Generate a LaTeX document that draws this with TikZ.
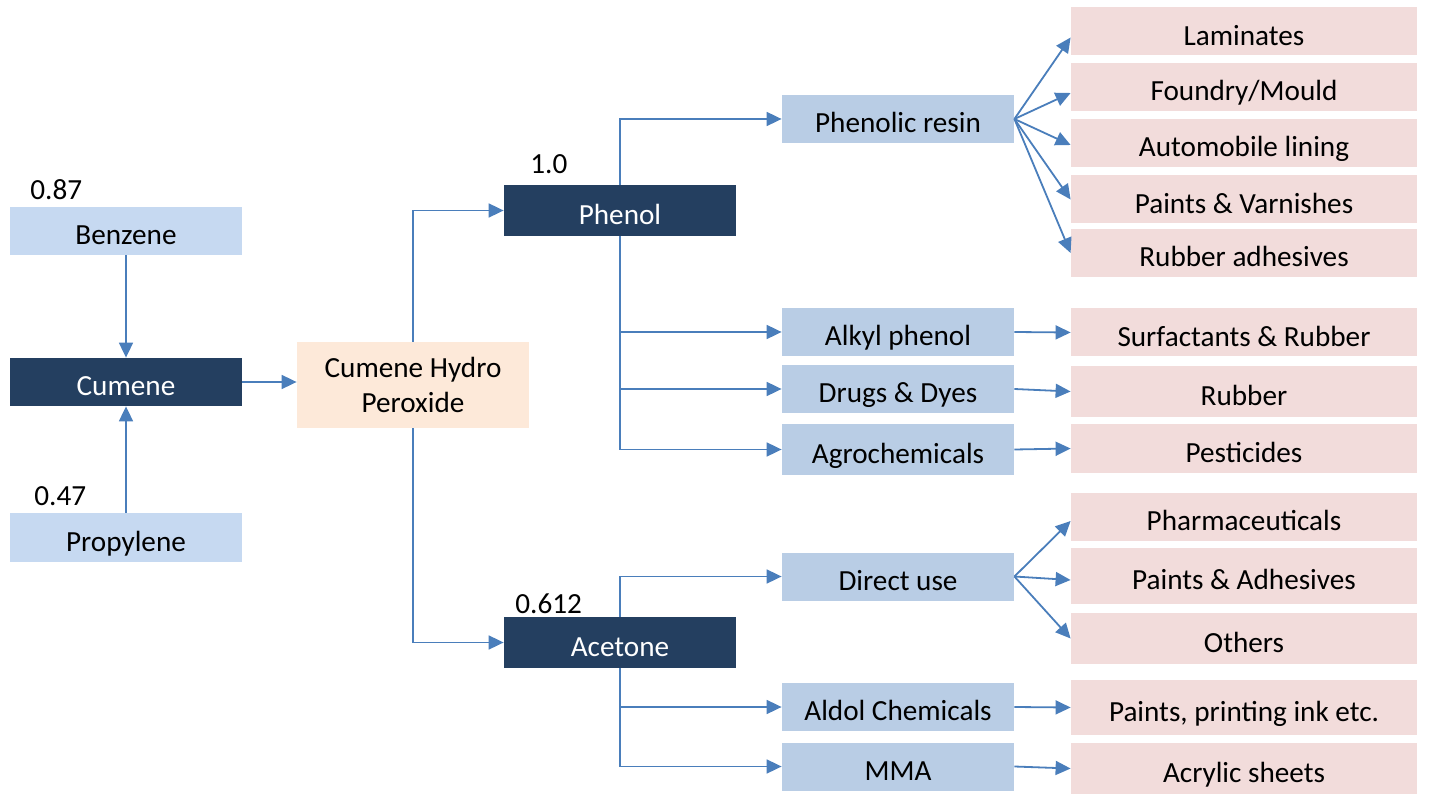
\documentclass[tikz,border=0pt]{standalone}
\usepackage{fontspec}
\setmainfont{Carlito}
\usetikzlibrary{arrows.meta,positioning}
\definecolor{navybox}{RGB}{36,63,96}
\definecolor{feedbox}{RGB}{198,217,241}
\definecolor{usebox}{RGB}{185,205,229}
\definecolor{endbox}{RGB}{242,220,219}
\definecolor{midbox}{RGB}{253,233,217}
\definecolor{flow}{RGB}{74,126,187}
\tikzset{
	box/.style={draw=none, inner sep=0pt, minimum height=24pt,
			text height=13.8pt, text depth=0pt,
			font=\fontsize{14.6pt}{17.5pt}\selectfont},
	feed/.style={box, fill=feedbox, minimum width=116pt},
	main/.style={box, fill=navybox, text=white, minimum width=116pt},
	use/.style={box, fill=usebox, minimum width=116pt},
	final/.style={box, fill=endbox, minimum width=173pt},
	num/.style={anchor=base west, inner sep=0pt, font=\fontsize{14.6pt}{17.5pt}\selectfont},
	arr/.style={-{Triangle[length=7.5pt,width=7pt]}, flow, line width=0.9pt}
}

\begin{document}
\begin{tikzpicture}[x=0.5pt,y=-0.5pt]
	\useasboundingbox (0,0) rectangle (1429,796);

	% raw materials
	\node [feed] (benzene)   at (126,231)   {Benzene};
	\node [main] (cumene)    at (126,382)   {Cumene};
	\node [feed, minimum height=24.5pt] (propylene) at (126,537.5) {Propylene};
	\node [num] (nbenz) at (30,200) {0.87};
	\node [num] (nprop) at (34,505) {0.47};

	\node [box, fill=midbox, minimum width=116pt, minimum height=43pt,
		text height=, text depth=, align=center] (chp) at (413,385) {Cumene Hydro\\Peroxide};

	% products
	\node [main, minimum height=25.5pt] (phenol)  at (620,210.5) {Phenol};
	\node [main, minimum height=25.5pt] (acetone) at (620,642.5) {Acetone};
	\node [num] (nphen) at (530,174) {1.0};
	\node [num] (nacet) at (515,613) {0.612};

	% intermediates / uses
	\node [use] (phenolic) at (898,119)   {Phenolic resin};
	\node [use] (alkyl)    at (898,332)   {Alkyl phenol};
	\node [use] (drugs)    at (898,389)   {Drugs \& Dyes};
	\node [use, minimum height=25.5pt] (agro) at (898,449.5) {Agrochemicals};
	\node [use] (direct)   at (898,576.5) {Direct use};
	\node [use] (aldol)    at (898,707)   {Aldol Chemicals};
	\node [use] (mma)      at (898,766.5) {MMA};

	% end uses
	\node [final] (lam)    at (1244,31.5)  {Laminates};
	\node [final] (found)  at (1244,87)    {Foundry/Mould};
	\node [final] (auto)   at (1244,143)   {Automobile lining};
	\node [final] (paintv) at (1244,199.5) {Paints \& Varnishes};
	\node [final] (rubadh) at (1244,253)   {Rubber adhesives};
	\node [final] (surf)   at (1244,332.5) {Surfactants \& Rubber};
	\node [final, minimum height=25.5pt] (rubber) at (1244,391.5) {Rubber};
	\node [final, minimum height=24.5pt] (pest)   at (1244,448.5) {Pesticides};
	\node [final] (pharm)  at (1244,517)   {Pharmaceuticals};
	\node [final, minimum height=28pt] (paintad) at (1244,576) {Paints \& Adhesives};
	\node [final, minimum height=25.5pt] (others) at (1244,638.5) {Others};
	\node [final, minimum height=27.5pt] (ink)    at (1244,707.5) {Paints, printing ink etc.};
	\node [final, minimum height=25.5pt] (acryl)  at (1244,768.5) {Acrylic sheets};

	\draw [arr] (benzene) -- (cumene);
	\draw [arr] (propylene) -- (cumene);
	\draw [arr] (cumene) -- (chp.west |- cumene);
	\draw [arr] (chp.north) |- (phenol.west);
	\draw [arr] (chp.south) |- (acetone.west);

	\draw [arr] (phenol.north) |- (phenolic.west);
	\draw [arr] (phenol.south) |- (alkyl.west);
	\draw [arr] (phenol.south) |- (drugs.west);
	\draw [arr] (phenol.south) |- (agro.west);
	\draw [arr] (acetone.north) |- (direct.west);
	\draw [arr] (acetone.south) |- (aldol.west);
	\draw [arr] (acetone.south) |- (mma.west);

	\draw [arr] (phenolic.east) -- ([yshift=-3pt]lam.west);
	\draw [arr] (phenolic.east) -- ([yshift=-3pt]found.west);
	\draw [arr] (phenolic.east) -- ([yshift=-1pt]auto.west);
	\draw [arr] (phenolic.east) -- (paintv.west);
	\draw [arr] (phenolic.east) -- (rubadh.west);
	\draw [arr] (alkyl.east) -- (surf.west);
	\draw [arr] (drugs.east) -- (rubber.west);
	\draw [arr] (agro.east) -- (pest.west);
	\draw [arr] (direct.east) -- ([yshift=-2pt]pharm.west);
	\draw [arr] (direct.east) -- ([yshift=-2pt]paintad.west);
	\draw [arr] (direct.east) -- (others.west);
	\draw [arr] (aldol.east) -- (ink.west);
	\draw [arr] (mma.east) -- (acryl.west);
\end{tikzpicture}
\end{document}
